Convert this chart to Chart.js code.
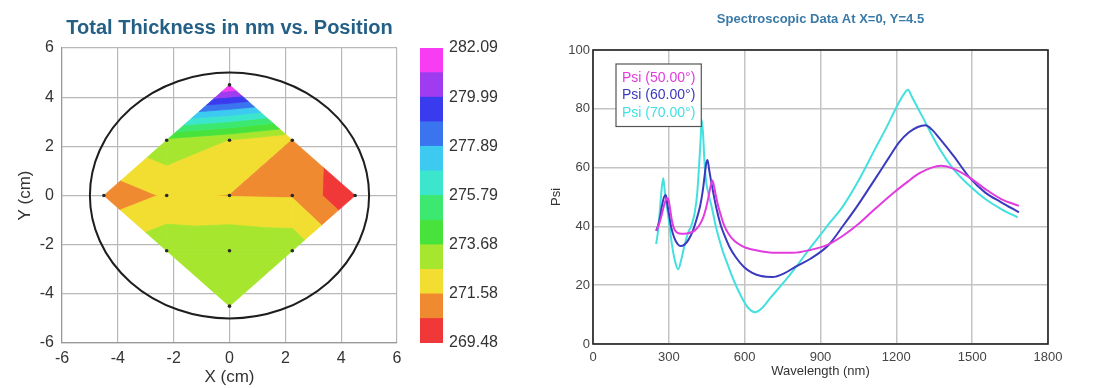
<!DOCTYPE html>
<html><head><meta charset="utf-8">
<script src="https://cdn.jsdelivr.net/npm/chart.js@4.4.1/dist/chart.umd.min.js"></script>
<style>
html,body{margin:0;padding:0;background:#fff;width:1097px;height:388px;overflow:hidden}
canvas{position:absolute;top:0}
</style></head><body>
<canvas id="map" width="410" height="388" style="left:0px"></canvas>
<canvas id="bar" width="110" height="388" style="left:400px"></canvas>
<canvas id="spec" width="557" height="388" style="left:540px"></canvas>
<script>
const FONT = "'Liberation Sans', Arial, Helvetica, sans-serif";

// ---- Thickness map (measurement sites, cm) ----
const POS_X = [0, -2.25, 0, 2.25, -4.5, -2.25, 0, 2.25, 4.5, -2.25, 0, 2.25, 0];
const POS_Y = [4.5, 2.25, 2.25, 2.25, 0, 0, 0, 0, 0, -2.25, -2.25, -2.25, -4.5];
const THICKNESS = [282.09, 273.4, 272.6, 271.55, 270.9, 271.7, 271.55, 271.5, 269.48, 273.5, 273.6, 273.4, 273.5];
const TRIANGLES = [[0,1,2],[0,2,3],[1,4,5],[3,7,8],[4,5,9],[7,8,11],[9,10,12],[10,11,12],
                   [1,2,5],[2,5,6],[2,3,6],[3,6,7],[5,6,9],[6,9,10],[6,7,11],[6,10,11]];
const LEVELS = [269.48, 270.53, 271.58, 272.63, 273.68, 274.73, 275.79, 276.84, 277.89, 278.94, 279.99, 281.04, 282.09];
const BAND_COLORS = ['#f03838','#f08a30','#f2de30','#a6e62e','#48e23c','#3ce870','#3ce6cc','#3ccaf0','#3a74ee','#3a3aee','#a03cf0','#f83cf4'];
const COLORBAR_TICKS = [269.48, 271.58, 273.68, 275.79, 277.89, 279.99, 282.09];
const WAFER_RADIUS = 5;

// ---- Spectroscopic data ----
const WL_50 = [252, 262, 272, 282, 290, 297, 304, 312, 322, 335, 350, 370, 390, 405, 420, 435, 448, 458, 466, 472, 478, 486, 495, 505, 518, 536, 560, 590, 625, 660, 720, 790, 860, 930, 990, 1050, 1115, 1180, 1240, 1290, 1340, 1377, 1420, 1490, 1552, 1615, 1685];
const PSI_50 = [38.5, 41, 44, 47.5, 49.3, 49.6, 46.5, 42, 39, 37.8, 37.5, 37.6, 38, 38.8, 40.3, 42.8, 46.5, 50.5, 54, 55.6, 54, 50.5, 47, 44, 40.5, 37.5, 35, 33.3, 32.2, 31.6, 31, 31, 32, 33.8, 36.9, 40.8, 45.9, 50.8, 54.9, 58, 60, 60.6, 59.8, 56.6, 52.7, 49.3, 47];
const WL_60 = [250, 258, 266, 274, 281, 288, 294, 300, 310, 322, 335, 347, 362, 378, 395, 410, 424, 434, 442, 448, 453, 460, 468, 478, 490, 505, 520, 540, 565, 597, 630, 665, 710, 760, 800, 860, 930, 990, 1050, 1115, 1170, 1210, 1250, 1285, 1315, 1340, 1370, 1427, 1490, 1552, 1615, 1685];
const PSI_60 = [38.5, 40.5, 43.5, 47.5, 50, 50.7, 47.5, 44.5, 39.5, 36, 34, 33.3, 33.8, 35.5, 38.5, 42.5, 47, 52, 57.5, 61.5, 62.6, 59, 55, 50.5, 45.5, 40.5, 37, 33, 29.5, 26.2, 24.2, 23.1, 22.8, 24.2, 26.2, 29, 33.5, 40.3, 47.5, 56, 63.3, 68.5, 72, 73.8, 74.4, 73, 70, 63.9, 56.6, 51.5, 48.2, 44.8];
const WL_70 = [250, 258, 265, 272, 278, 284, 290, 300, 312, 325, 337, 350, 362, 375, 390, 402, 412, 420, 426, 430, 435, 441, 448, 457, 470, 486, 510, 535, 560, 585, 612, 641, 668, 700, 745, 796, 860, 930, 990, 1050, 1115, 1160, 1202, 1230, 1246, 1262, 1302, 1365, 1427, 1490, 1552, 1615, 1680];
const PSI_70 = [34, 39, 46, 53, 56.4, 52, 48, 42, 34, 28, 25.4, 29, 33.5, 37.5, 40.5, 44.5, 51, 61, 70, 76.3, 72, 62, 55, 51, 46.5, 40, 32.5, 26.5, 21, 16.4, 12.5, 10.8, 12.2, 15.5, 20, 25.4, 32.8, 40.5, 47, 55.5, 66.2, 73.5, 80.8, 85, 86.5, 84, 77.5, 67.3, 59.4, 53.8, 49.3, 45.9, 43.1];
const SERIES_LABELS = ['Psi (50.00\u00b0)', 'Psi (60.00\u00b0)', 'Psi (70.00\u00b0)'];
const SERIES_COLORS = ['#e23ce0', '#3a3abf', '#44e0e0'];

// ---------- helpers ----------
function clipPoly(poly, level, keepAbove) {
  const out = [];
  for (let i = 0; i < poly.length; i++) {
    const a = poly[i], b = poly[(i + 1) % poly.length];
    const ina = keepAbove ? a.v >= level : a.v <= level;
    const inb = keepAbove ? b.v >= level : b.v <= level;
    if (ina) out.push(a);
    if (ina !== inb) {
      const t = (level - a.v) / (b.v - a.v);
      out.push({x: a.x + t * (b.x - a.x), y: a.y + t * (b.y - a.y), v: level});
    }
  }
  return out;
}

const contourPlugin = {
  id: 'contour',
  beforeDatasetsDraw(chart) {
    const {ctx, chartArea} = chart;
    const xs = chart.scales.x, ys = chart.scales.y;
    ctx.save();
    ctx.beginPath();
    ctx.rect(chartArea.left, chartArea.top, chartArea.right - chartArea.left, chartArea.bottom - chartArea.top);
    ctx.clip();
    ctx.lineJoin = 'round';
    TRIANGLES.forEach(tri => {
      const poly = tri.map(i => ({x: POS_X[i], y: POS_Y[i], v: THICKNESS[i]}));
      for (let k = 0; k < BAND_COLORS.length; k++) {
        let p = clipPoly(poly, LEVELS[k], true);
        if (p.length < 3) continue;
        p = clipPoly(p, LEVELS[k + 1], false);
        if (p.length < 3) continue;
        ctx.beginPath();
        p.forEach((q, j) => {
          const px = xs.getPixelForValue(q.x), py = ys.getPixelForValue(q.y);
          if (j === 0) ctx.moveTo(px, py); else ctx.lineTo(px, py);
        });
        ctx.closePath();
        ctx.fillStyle = BAND_COLORS[k];
        ctx.strokeStyle = BAND_COLORS[k];
        ctx.lineWidth = 0.8;
        ctx.fill();
        ctx.stroke();
      }
    });
    // wafer outline
    const cx = xs.getPixelForValue(0), cy = ys.getPixelForValue(0);
    const rx = Math.abs(xs.getPixelForValue(WAFER_RADIUS) - cx);
    const ry = Math.abs(ys.getPixelForValue(WAFER_RADIUS) - cy);
    ctx.beginPath();
    ctx.ellipse(cx, cy, rx, ry, 0, 0, Math.PI * 2);
    ctx.strokeStyle = '#1e1e1e';
    ctx.lineWidth = 2;
    ctx.stroke();
    ctx.restore();
  }
};

new Chart(document.getElementById('map'), {
  type: 'scatter',
  data: { datasets: [{
    data: POS_X.map((x, i) => ({x: x, y: POS_Y[i]})),
    pointRadius: 1.8, pointBackgroundColor: '#2a2a2a', pointBorderWidth: 0
  }]},
  options: {
    responsive: false, animation: false,
    layout: { padding: { left: 0, right: 13, top: 0, bottom: 0 } },
    plugins: {
      legend: { display: false }, tooltip: { enabled: false },
      title: { display: true, fullSize: false, text: 'Total Thickness in nm vs. Position', color: '#245f86',
               font: { size: 20, weight: 'bold', family: FONT }, padding: { top: 16, bottom: 8 } }
    },
    scales: {
      x: { type: 'linear', min: -6, max: 6,
           ticks: { stepSize: 2, color: '#333', font: { size: 16, family: FONT }, padding: 6, maxRotation: 0, callback: v => String(v) },
           grid: { color: '#b8b8b8', lineWidth: 1.2, drawTicks: false },
           border: { color: '#999', width: 1.2 },
           title: { display: true, text: 'X (cm)', color: '#333', font: { size: 17, family: FONT }, padding: { top: 0, bottom: 0 } },
           afterFit: s => { s.height = 45; } },
      y: { type: 'linear', min: -6, max: 6,
           ticks: { stepSize: 2, color: '#333', font: { size: 16, family: FONT }, padding: 8, callback: v => String(v) },
           grid: { color: '#b8b8b8', lineWidth: 1.2, drawTicks: false },
           border: { color: '#999', width: 1.2 },
           title: { display: true, text: 'Y (cm)', color: '#333', font: { size: 17, family: FONT }, padding: { top: 15, bottom: 0 } },
           afterFit: s => { s.width = 62; } }
    }
  },
  plugins: [contourPlugin]
});

// ---------- colour bar ----------
new Chart(document.getElementById('bar'), {
  type: 'bar',
  data: {
    labels: ['thickness'],
    datasets: BAND_COLORS.map((c, k) => ({
      data: [[LEVELS[k], LEVELS[k + 1]]], backgroundColor: c, borderWidth: 0,
      grouped: false, barPercentage: 1, categoryPercentage: 1
    }))
  },
  options: {
    responsive: false, animation: false,
    layout: { padding: { left: 20, right: 0, top: 48, bottom: 45 } },
    plugins: { legend: { display: false }, tooltip: { enabled: false } },
    scales: {
      x: { display: false },
      y: { position: 'right', min: LEVELS[0], max: LEVELS[LEVELS.length - 1],
           afterBuildTicks: s => { s.ticks = COLORBAR_TICKS.map(v => ({ value: v })); },
           ticks: { color: '#333', font: { size: 16, family: FONT }, padding: 6, autoSkip: false,
                    callback: v => Number(v).toFixed(2) },
           grid: { display: false, drawTicks: false }, border: { display: false },
           afterFit: s => { s.width = 67; } }
    }
  }
});

// ---------- spectroscopic chart ----------
const framePlugin = {
  id: 'frame',
  beforeDatasetsDraw(chart) {
    const {ctx, chartArea: a} = chart;
    ctx.save();
    ctx.strokeStyle = '#222';
    ctx.lineWidth = 1.6;
    ctx.strokeRect(a.left, a.top, a.right - a.left, a.bottom - a.top);
    ctx.restore();
  }
};
const legendPlugin = {
  id: 'insideLegend',
  afterDatasetsDraw(chart) {
    const {ctx, chartArea} = chart;
    const ds = chart.data.datasets;
    ctx.save();
    ctx.font = '14px ' + FONT;
    const lineH = 17.5, padX = 6, padY = 5;
    const w = Math.max(...ds.map(d => ctx.measureText(d.label).width)) + padX * 2;
    const h = ds.length * lineH + padY * 2;
    const x0 = chartArea.left + 23, y0 = chartArea.top + 14;
    ctx.fillStyle = '#fff';
    ctx.fillRect(x0, y0, w, h);
    ctx.strokeStyle = '#555';
    ctx.lineWidth = 1.2;
    ctx.strokeRect(x0, y0, w, h);
    ctx.textBaseline = 'middle';
    ds.forEach((d, i) => {
      ctx.fillStyle = d.borderColor;
      ctx.fillText(d.label, x0 + padX, y0 + padY + lineH * (i + 0.5));
    });
    ctx.restore();
  }
};
function pts(xs, ys) { return xs.map((x, i) => ({ x: x, y: ys[i] })); }

new Chart(document.getElementById('spec'), {
  type: 'scatter',
  data: { datasets: [
    { label: SERIES_LABELS[0], data: pts(WL_50, PSI_50), borderColor: SERIES_COLORS[0] },
    { label: SERIES_LABELS[1], data: pts(WL_60, PSI_60), borderColor: SERIES_COLORS[1] },
    { label: SERIES_LABELS[2], data: pts(WL_70, PSI_70), borderColor: SERIES_COLORS[2] }
  ].map(d => Object.assign(d, { showLine: true, pointRadius: 0, borderWidth: 2, cubicInterpolationMode: 'monotone', fill: false })) },
  options: {
    responsive: false, animation: false,
    layout: { padding: { left: 0, right: 49, top: 0, bottom: 0 } },
    plugins: {
      legend: { display: false }, tooltip: { enabled: false },
      title: { display: true, fullSize: false, text: 'Spectroscopic Data At X=0, Y=4.5', color: '#3a7aa8',
               font: { size: 13, weight: 'bold', family: FONT }, padding: { top: 12, bottom: 22.4 } }
    },
    scales: {
      x: { type: 'linear', min: 0, max: 1800,
           ticks: { stepSize: 300, color: '#444', font: { size: 13, family: FONT }, padding: 6, maxRotation: 0, callback: v => String(v) },
           grid: { color: '#c4c4c4', lineWidth: 1.5, drawTicks: false },
           border: { display: false },
           title: { display: true, text: 'Wavelength (nm)', color: '#333', font: { size: 13, family: FONT }, padding: { top: 0, bottom: 9 } },
           afterFit: s => { s.height = 44; } },
      y: { type: 'linear', min: 0, max: 100,
           ticks: { stepSize: 20, color: '#444', font: { size: 13, family: FONT }, padding: 3, callback: v => String(v) },
           grid: { color: '#c4c4c4', lineWidth: 1.5, drawTicks: false },
           border: { display: false },
           title: { display: true, text: 'Psi', color: '#333', font: { size: 13, family: FONT }, padding: { top: 9, bottom: 0 } },
           afterFit: s => { s.width = 53; } }
    }
  },
  plugins: [framePlugin, legendPlugin]
});
</script>
</body></html>
